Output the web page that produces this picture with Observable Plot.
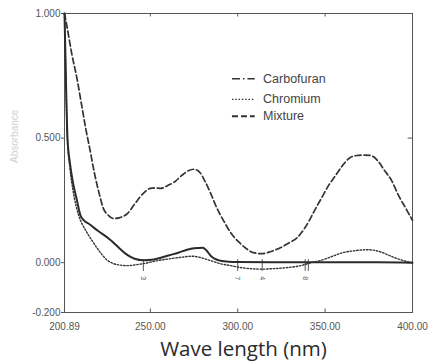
<!DOCTYPE html>
<html>
<head>
<meta charset="utf-8">
<script src="https://cdn.jsdelivr.net/npm/d3@7"></script>
<script src="https://cdn.jsdelivr.net/npm/@observablehq/plot@0.6"></script>
<style>
  html, body { margin: 0; padding: 0; background: #fff; }
  #chart svg { display: block; }
</style>
</head>
<body>
<div id="chart"></div>
<script>
// ---- data ----
const xTicks = [200.89, 250, 300, 350, 400];
const yTicks = [-0.2, 0, 0.5, 1.0];

const carbofuranNm = [200.89, 201.5, 202.6, 204, 205.5, 208, 210, 212, 215, 220, 227, 232, 237, 241, 246, 251, 256, 261, 266, 271, 275, 280, 282, 284.5, 287, 290, 295, 300, 320, 340, 360, 380, 400];
const carbofuranAbs = [1.0, 0.8, 0.5, 0.4, 0.33, 0.25, 0.19, 0.17, 0.155, 0.128, 0.092, 0.06, 0.03, 0.016, 0.01, 0.012, 0.02, 0.03, 0.04, 0.052, 0.058, 0.06, 0.05, 0.028, 0.015, 0.008, 0.004, 0.003, 0.002, 0.002, 0.002, 0.002, 0.0];

const chromiumNm = [200.89, 201.5, 202.5, 204, 206, 209, 213, 217, 221.5, 225, 229, 233, 237, 242, 246, 254, 261.5, 268, 274, 279, 284.5, 290, 296, 302, 307, 314, 320, 328, 336, 342, 347, 354, 360, 367, 374, 381, 387, 393, 400];
const chromiumAbs = [1.0, 0.8, 0.5, 0.38, 0.28, 0.19, 0.13, 0.085, 0.04, 0.012, -0.004, -0.01, -0.012, -0.008, -0.004, 0.008, 0.016, 0.022, 0.026, 0.02, 0.008, -0.004, -0.012, -0.02, -0.024, -0.026, -0.024, -0.02, -0.012, 0.0, 0.008, 0.025, 0.04, 0.048, 0.052, 0.045, 0.028, 0.012, 0.0];

const mixtureNm = [200.89, 202, 205, 208, 211, 213, 215, 218, 221, 223, 226, 229, 232, 237, 241, 246, 250, 253, 256, 260, 264, 268, 272, 275, 278.6, 281, 284.4, 288, 291.8, 296, 301.5, 305, 309, 314, 319, 324.4, 329, 334, 338, 341, 344, 348, 352, 356, 360, 364, 368, 372, 376, 380, 384, 388, 392, 396, 400];
const mixtureAbs = [1.0, 0.96, 0.84, 0.74, 0.62, 0.54, 0.47, 0.36, 0.27, 0.22, 0.19, 0.177, 0.18, 0.198, 0.235, 0.278, 0.298, 0.3, 0.298, 0.31, 0.325, 0.35, 0.37, 0.375, 0.36, 0.33, 0.28, 0.22, 0.17, 0.12, 0.077, 0.056, 0.04, 0.036, 0.045, 0.06, 0.078, 0.1, 0.135, 0.17, 0.21, 0.26, 0.31, 0.35, 0.39, 0.42, 0.43, 0.432, 0.43, 0.41, 0.37, 0.33, 0.27, 0.22, 0.17];

const peakNm = [246, 300, 314, 338.6, 340.4];
const peakLabels = ["3", "7", "4", "8", ""];

const seriesNames = ["Carbofuran", "Chromium", "Mixture"];
const seriesDash = ["8,3,1.5,3", "1.5,1.8", "6,3"];
const seriesWidth = [1.4, 1.3, 2];

// ---- build tables ----
const toRows = (nm, ab) => nm.map((x, i) => ({x, y: ab[i]}));
const carbofuran = toRows(carbofuranNm, carbofuranAbs);
const chromium = toRows(chromiumNm, chromiumAbs);
const mixture = toRows(mixtureNm, mixtureAbs);

// legend placed inside the frame (data coordinates)
const legendY = [0.738, 0.655, 0.588];
const legend = seriesNames.map((name, i) => ({name, y: legendY[i], dash: seriesDash[i], w: seriesWidth[i]}));

const ink = "#333";
const fontFam = "'Liberation Sans', Arial, sans-serif";

const chart = Plot.plot({
  width: 438,
  height: 362,
  marginLeft: 64,
  marginRight: 26,
  marginTop: 13,
  marginBottom: 50,
  style: {fontFamily: fontFam, fontSize: "10px", color: "#555", background: "#fff"},
  x: {domain: [200.89, 400]},
  y: {domain: [-0.2, 1.0]},
  marks: [
    Plot.frame({stroke: "#555", strokeWidth: 1}),
    // inward ticks on top, bottom, right
    Plot.ruleX([250, 300, 350], {y1: -0.2, y2: -0.186, stroke: "#555"}),
    Plot.ruleX([250, 300, 350], {y1: 1.0, y2: 0.986, stroke: "#555"}),
    Plot.ruleY([0.5, 0], {x1: 397.5, x2: 400, stroke: "#555"}),
    Plot.axisX({ticks: xTicks, tickFormat: d => d.toFixed(2), tickSize: 0, tickPadding: 10, label: null, fill: "#555"}),
    Plot.axisY({ticks: yTicks, tickFormat: d => d.toFixed(3), tickSize: 3, tickPadding: 1, label: null, fill: "#555"}),
    // peak markers
    Plot.ruleX(peakNm, {y1: -0.035, y2: 0.012, stroke: "#555", strokeWidth: 1}),
    Plot.text(peakNm, {x: d => d, y: -0.062, text: (d, i) => peakLabels[i], rotate: 90, fontSize: 7, fill: "#555"}),
    // curves
    Plot.line(chromium, {x: "x", y: "y", stroke: ink, strokeWidth: 1.4, strokeDasharray: "1.5,1.8", curve: "monotone-x"}),
    Plot.line(mixture, {x: "x", y: "y", stroke: ink, strokeWidth: 1.7, strokeDasharray: "6,3", curve: "monotone-x"}),
    Plot.line(carbofuran, {x: "x", y: "y", stroke: "#2b2b2b", strokeWidth: 2, curve: "monotone-x"}),
    // legend
    ...legend.map(d => Plot.ruleY([d.y], {x1: 297, x2: 310, stroke: ink, strokeWidth: d.w, strokeDasharray: d.dash})),
    Plot.text(legend, {x: 314.5, y: "y", text: "name", textAnchor: "start", fontSize: 12.5, fill: "#444"}),
    // axis titles
    Plot.text(["Absorbance"], {frameAnchor: "left", dx: -50, rotate: -90, fontSize: 10, fill: "#d0d0d0"}),
    Plot.text(["Wave length (nm)"], {frameAnchor: "bottom", lineAnchor: "middle", dy: 37, dx: 5, fontSize: 20.5, fill: "#2a2a2a", fontFamily: "'Open Sans', sans-serif"})
  ]
});
document.getElementById("chart").append(chart);
</script>
</body>
</html>
